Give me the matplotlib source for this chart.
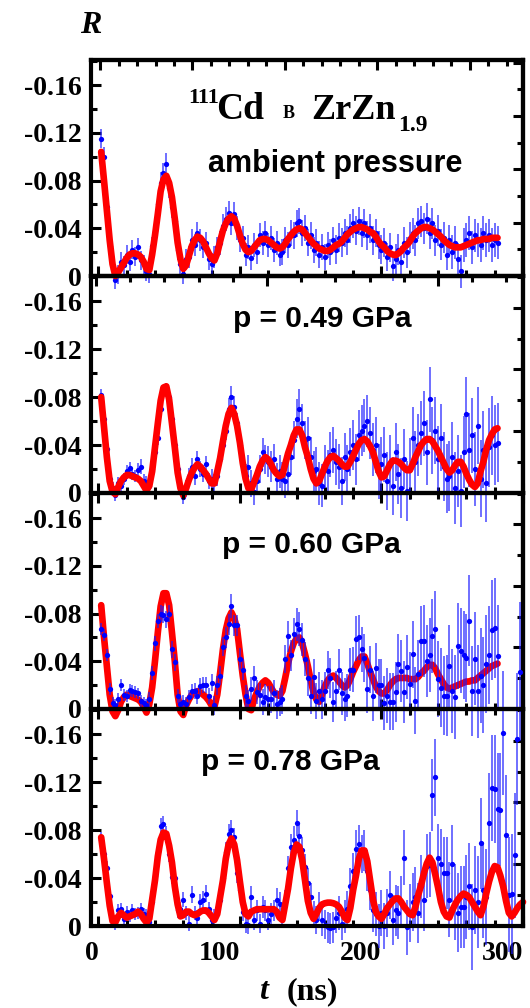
import numpy as np
import matplotlib
matplotlib.use("Agg")
import matplotlib.pyplot as plt
from matplotlib.ticker import FixedLocator

plt.rcParams['axes.unicode_minus'] = False

# ---------------- data (R values in units of 1e-3) ----------------
t_ns = [2, 4, 6, 8, 10, 12, 14, 16, 18, 20,
        22, 24, 26, 28, 30, 32, 34, 36, 38, 40,
        42, 44, 46, 48, 50, 52, 54, 56, 58, 60,
        62, 64, 66, 68, 70, 72, 74, 76, 78, 80,
        82, 84, 86, 88, 90, 92, 94, 96, 98, 100,
        102, 104, 106, 108, 110, 112, 114, 116, 118, 120,
        122, 124, 126, 128, 130, 132, 134, 136, 138, 140,
        142, 144, 146, 148, 150, 152, 154, 156, 158, 160,
        162, 164, 166, 168, 170, 172, 174, 176, 178, 180,
        182, 184, 186, 188, 190, 192, 194, 196, 198, 200,
        202, 204, 206, 208, 210, 212, 214, 216, 218, 220,
        222, 224, 226, 228, 230, 232, 234, 236, 238, 240,
        242, 244, 246, 248, 250, 252, 254, 256, 258, 260,
        262, 264, 266, 268, 270, 272, 274, 276, 278, 280,
        282, 284, 286, 288, 290, 292, 294, 296, 298, 300]

# ambient pressure
p1_R = [-115, -100, -58, -25, -6, 3, -1, -12, -9, -18,
        -12, -22, -16, -24, -13, -10, -4, -2, -25, -38,
        -60, -78, -86, -94, -74, -58, -46, -22, -10, -2,
        -14, -16, -30, -26, -36, -30, -24, -28, -14, -10,
        -16, -24, -28, -42, -48, -53, -44, -52, -40, -30,
        -32, -18, -24, -15, -26, -20, -34, -28, -36, -26,
        -32, -22, -28, -18, -20, -30, -26, -36, -34, -44,
        -46, -36, -40, -28, -34, -22, -28, -18, -24, -16,
        -26, -20, -30, -22, -32, -28, -36, -30, -40, -44,
        -38, -46, -36, -44, -34, -40, -30, -36, -26, -22,
        -28, -16, -24, -8, -14, -22, -12, -28, -20, -32,
        -36, -30, -44, -46, -40, -48, -36, -44, -30, -38,
        -26, -32, -18, -30, -20, -28, -14, -4, -26, -30,
        -36, -24, -34, -30, -26, -36, -30, -34, -26, -30, -28]
p1_err = [8, 8, 8, 8, 8, 8, 8, 8, 8, 8,
          8, 8, 8, 8, 8, 8, 8, 8, 8, 8,
          9, 9, 9, 9, 9, 9, 9, 9, 9, 9,
          9, 9, 9, 9, 9, 9, 9, 9, 9, 9,
          9, 9, 10, 10, 10, 10, 10, 10, 10, 10,
          10, 10, 10, 10, 10, 10, 10, 10, 10, 10,
          10, 10, 10, 10, 11, 11, 11, 11, 11, 11,
          11, 11, 11, 11, 11, 11, 11, 11, 11, 11,
          11, 11, 11, 12, 12, 12, 12, 12, 12, 12,
          12, 12, 12, 12, 12, 12, 12, 12, 12, 12,
          12, 12, 12, 12, 13, 13, 13, 13, 13, 13,
          13, 13, 13, 13, 13, 13, 13, 13, 13, 13,
          13, 13, 13, 13, 14, 14, 14, 14, 14, 14,
          14, 14, 14, 14, 14, 14, 14, 14, 14, 14, 14]
p1_fit = [-104, -80, -55, -30, -10, 0, -3, -7, -11, -15,
          -18, -19, -19, -18, -16, -12, -6, -5, -18, -34,
          -52, -71, -81, -84, -78, -66, -48, -28, -14, -6,
          -9, -17, -25, -30, -33, -32, -29, -24, -19, -15,
          -13, -19, -29, -38, -44, -48, -50, -48, -42, -34,
          -27, -22, -20, -21, -24, -27, -30, -31, -31, -30,
          -28, -26, -24, -23, -24, -27, -31, -34, -37, -39,
          -40, -39, -36, -33, -30, -27, -25, -23, -22, -21,
          -21, -22, -24, -26, -27, -29, -32, -35, -37, -39,
          -40, -41, -41, -40, -39, -37, -36, -33, -29, -26,
          -24, -21, -19, -18, -17.5, -19, -21, -24, -26, -29,
          -33, -36, -38, -40, -41, -41, -40, -39, -37, -35,
          -33, -30, -28, -26, -25, -24, -24, -24, -25, -26,
          -27, -28, -29, -30, -30, -31, -31, -31, -32, -32, -32]

# p = 0.49 GPa
p2_R = [-82, -62, -37, -12, -4, 2, -8, -6, -12, -18,
        -21, -16, -14, -19, -22, -10, -8, -6, -20, -34,
        -46, -70, -84, -86, -80, -62, -40, -20, -6, 3,
        -4, -14, -22, -14, -28, -20, -16, -24, -10, -12,
        -8, -14, -28, -40, -52, -70, -80, -72, -58, -40,
        -24, -14, -22, -8, -1, -10, -20, -34, -28, -26,
        -22, -28, -12, -18, -12, -10, -16, -30, -44, -62,
        -70, -58, -44, -46, -30, -18, -20, -8, -6, -22,
        -18, -32, -36, -26, -22, -10, -30, -20, -34, -40,
        -28, -48, -52, -56, -60, -50, -36, -40, -18, -24,
        -32, -10, -24, -6, -34, -16, -4, -28, -2, -20,
        -46, -26, -40, -50, -58, -34, -78, -44, -52, -28,
        -46, -22, -12, -14, -30, -4, -18, -2, -34, -66,
        -36, -48, -20, -56, -12, -36, -8, -38, -48, -40, -42]
p2_err = [5, 5, 5, 5, 5, 5, 5, 5, 5, 5,
          5, 5, 5, 6, 6, 6, 6, 6, 6, 6,
          6, 6, 6, 6, 6, 6, 6, 6, 6, 6,
          7, 7, 7, 7, 7, 7, 7, 7, 7, 8,
          8, 8, 8, 8, 8, 9, 9, 9, 9, 10,
          10, 10, 10, 11, 11, 11, 12, 12, 12, 13,
          13, 13, 13, 14, 14, 14, 15, 15, 16, 16,
          17, 16, 16, 17, 17, 17, 18, 18, 18, 18,
          18, 19, 19, 19, 19, 20, 20, 20, 20, 21,
          21, 21, 21, 22, 22, 22, 22, 23, 23, 23,
          23, 24, 24, 24, 24, 25, 25, 25, 25, 26,
          26, 26, 26, 27, 27, 27, 27, 28, 28, 28,
          28, 29, 29, 29, 29, 30, 30, 30, 30, 31,
          31, 31, 31, 32, 32, 32, 32, 33, 33, 33, 33]
p2_fit = [-80, -55, -30, -10, -1, 1, -5, -10, -13, -15,
          -15, -14, -13, -12, -10, -6, -2, -6, -18, -38,
          -58, -77, -88, -89, -78, -58, -38, -17, -4, 2,
          -4, -11, -17, -21, -24, -22, -19, -16, -12, -8,
          -8, -18, -29, -43, -56, -66, -71, -66, -56, -42,
          -25, -12, -4, -3, -9, -15, -22, -27, -30, -28,
          -24, -19, -16, -14, -15, -24, -33, -40, -48, -53,
          -53, -48, -38, -30, -20, -12, -8, -10, -16, -22,
          -27, -30, -31, -29, -27, -24, -22, -22, -26, -31,
          -36, -41, -44, -45, -43, -39, -34, -26, -18, -13,
          -14, -19, -24, -27, -27, -26, -24, -21, -19, -19,
          -24, -30, -35, -40, -43, -45, -45, -43, -39, -35,
          -30, -25, -20, -17, -19, -23, -26, -26, -22, -16,
          -11, -7, -5, -8, -18, -26, -36, -44, -49, -53, -54]

# p = 0.60 GPa
p3_R = [-67, -62, -45, -17, -5, -3, -8, -20, -12, -11,
        -16, -15, -14, -13, -7, -5, -3, -8, -30, -55,
        -74, -80, -79, -75, -80, -50, -39, -11, -4, -6,
        -4, -10, -15, -15, -11, -19, -20, -20, -11, -22,
        -3, -20, -28, -52, -60, -71, -86, -70, -70, -42,
        -33, -11, -7, -17, -26, -14, -12, -6, -10, -8,
        -8, -13, -4, -6, -8, -42, -61, -45, -63, -71,
        -67, -58, -42, -26, -11, -27, -7, -15, -8, -15,
        -33, -26, -6, -15, -33, -13, -8, -11, -33, -33,
        -59, -60, -50, -43, -17, -33, -11, -34, -20, -20,
        -5, -11, -6, -6, -14, -38, -32, -14, -35, -21,
        -46, -7, -29, -57, -57, -40, -45, -61, -67, -25,
        -18, -11, -11, -36, -15, -10, -53, -49, -45, -43,
        -74, -15, -42, -15, -28, -20, -38, -45, -66, -68, -44]
p3_err = [5, 5, 5, 5, 5, 5, 5, 5, 5, 5,
          5, 5, 5, 5, 5, 5, 5, 6, 6, 6,
          6, 7, 7, 7, 7, 7, 7, 6, 6, 6,
          6, 6, 6, 7, 7, 7, 7, 7, 7, 7,
          8, 8, 8, 8, 9, 9, 10, 9, 9, 9,
          9, 9, 9, 10, 10, 10, 10, 11, 11, 11,
          11, 11, 12, 12, 12, 12, 13, 13, 13, 14,
          14, 14, 14, 15, 15, 15, 15, 16, 16, 16,
          16, 17, 17, 17, 17, 18, 18, 18, 18, 19,
          19, 19, 19, 20, 20, 20, 21, 21, 22, 22,
          23, 23, 24, 24, 25, 25, 26, 26, 27, 27,
          28, 28, 29, 29, 30, 30, 31, 31, 32, 32,
          33, 33, 34, 34, 35, 35, 36, 36, 37, 37,
          38, 38, 39, 39, 40, 40, 41, 41, 42, 42, 43]
p3_fit = [-87, -60, -36, -12, 2, 6, 1, -6, -10, -12,
          -11, -10, -9, -8, -6, -2, 3, -4, -18, -40,
          -64, -86, -97, -97, -87, -64, -40, -12, 2, 5,
          -3, -8, -12, -14, -15, -14, -12, -10, -7, -3,
          -2, -12, -30, -50, -66, -76, -81, -76, -67, -47,
          -28, -12, 0, 1, -8, -14, -19, -22, -24, -22,
          -18, -14, -12, -11, -15, -26, -38, -48, -55, -59,
          -60, -55, -46, -36, -24, -14, -8, -6, -12, -19,
          -24, -27, -28, -26, -23, -20, -18, -20, -25, -31,
          -36, -41, -44, -44, -38, -31, -25, -19, -15, -13,
          -13, -16, -20, -23, -25, -26, -26, -26, -26, -25,
          -25, -25, -27, -30, -32, -35, -37, -37, -34, -29,
          -25, -21, -18, -17, -18, -19, -20, -21, -22, -23,
          -23, -24, -24, -26, -28, -30, -32, -34, -36, -37, -38]

# p = 0.78 GPa
p4_R = [-72, -60, -48, -25, -4, -2, -13, -14, -6, -12,
        -8, -13, -10, -11, -14, -10, -9, -3, -20, -42,
        -62, -83, -85, -76, -60, -41, -40, -13, -14, -22,
        -11, -2, -26, -11, -7, -20, -22, -27, -14, -5,
        -8, -12, -22, -40, -62, -77, -80, -74, -44, -30,
        -12, -2, -1, -24, -5, -13, -2, -16, -13, -5,
        -10, -13, -22, -18, -8, -20, -48, -66, -72, -86,
        -75, -63, -49, -36, -24, -10, -5, -16, -5, -1,
        1, 2, 1, -7, -11, -2, -8, -14, -33, -46,
        -64, -68, -60, -63, -46, -30, -13, -10, 0, -11,
        0, -11, -26, -5, -13, -11, -20, -57, 1, -11,
        -20, -24, -11, -33, -22, -50, -51, -109, -124, -57,
        -52, -44, -44, -22, -52, -20, -11, -16, -16, -24,
        -33, 1, -30, -20, -69, -30, -24, -86, -115, -114,
        -98, -97, -161, -76, -26, -27, -59, -156, -212]
p4_err = [6, 6, 6, 5, 5, 5, 5, 5, 5, 5,
          5, 5, 5, 5, 5, 5, 5, 5, 6, 6,
          7, 7, 7, 7, 7, 6, 6, 6, 6, 6,
          6, 6, 7, 6, 6, 7, 7, 7, 6, 6,
          6, 6, 7, 7, 8, 8, 8, 8, 8, 8,
          8, 8, 8, 9, 8, 9, 8, 9, 9, 8,
          9, 9, 10, 10, 9, 10, 10, 11, 11, 11,
          11, 11, 11, 12, 12, 11, 12, 12, 13, 12,
          13, 13, 13, 13, 14, 14, 14, 15, 15, 15,
          16, 16, 16, 17, 17, 17, 18, 18, 18, 19,
          19, 20, 20, 21, 21, 22, 22, 23, 23, 24,
          24, 25, 25, 26, 26, 27, 27, 30, 32, 28,
          29, 30, 30, 31, 32, 32, 33, 34, 34, 35,
          36, 36, 37, 38, 38, 40, 40, 42, 44, 45,
          46, 47, 52, 50, 48, 50, 52, 55, 58]
p4_fit = [-74, -56, -36, -17, -4, -3, -8, -11, -9, -7,
          -8, -9, -10, -12, -10, -6, -3, -6, -22, -38,
          -58, -72, -78, -77, -67, -53, -33, -18, -8, -9,
          -12, -12, -10, -9, -10, -12, -13, -13, -11, -8,
          -5, -10, -24, -38, -56, -68, -73, -68, -55, -37,
          -20, -10, -8, -12, -13, -14, -14, -14, -14, -14,
          -14, -14, -12, -7, -5, -18, -31, -48, -61, -68,
          -66, -55, -38, -21, -11, -6, -10, -15, -18, -19,
          -19.5, -19.5, -19, -18, -16, -12, -7, -5, -15, -30,
          -42, -56, -63, -63, -54, -38, -22, -12, -8, -6,
          -10, -15, -18, -21, -23, -23, -20, -16, -13, -10,
          -9, -16, -26, -34, -44, -52, -57, -53, -43, -32,
          -20, -12, -8, -7, -13, -18, -22, -25, -27, -26,
          -24, -20, -16, -12, -9, -16, -27, -37, -45, -50,
          -49, -42, -33, -21, -11, -8, -11, -15, -18, -20]

panel_labels = ["ambient pressure", "p = 0.49 GPa", "p = 0.60 GPa", "p = 0.78 GPa"]
ytick_vals = [0, -0.04, -0.08, -0.12, -0.16]
ytick_text = ["0", "-0.04", "-0.08", "-0.12", "-0.16"]
xtick_vals = [0, 100, 200, 300]
xtick_text = ["0", "100", "200", "300"]

# ---------------- figure ----------------
W, H = 530.0, 1008.0
fig = plt.figure(figsize=(W / 100, H / 100), dpi=100)
fig.patch.set_facecolor("white")

panel_px = [(60, 276), (276, 493), (493, 709), (709, 926)]
left_px, right_px = 91, 523

SERIF = "Liberation Serif"
SANS = "Liberation Sans"

data_sets = [
    (p1_R, p1_err, p1_fit),
    (p2_R, p2_err, p2_fit),
    (p3_R, p3_err, p3_fit),
    (p4_R, p4_err, p4_fit),
]

def ptext(x, y, s, **kw):
    fig.text(x / W, 1 - y / H, s, **kw)

SPW = 3.0
TW = 2.2
MAJL, MINL = 7.5, 4.5

axes = []
for i, ((top, bot), (R, err, fit)) in enumerate(zip(panel_px, data_sets)):
    ax = fig.add_axes([left_px / W, 1 - bot / H, (right_px - left_px) / W, (bot - top) / H])
    ax.set_facecolor("none")
    ax.set_xlim(-5.2, 300)
    ax.set_ylim(0, -0.181)

    n = len(R)
    td = np.array(t_ns[:n], dtype=float)
    Rd = np.array(R, dtype=float) * 1e-3
    Ed = np.array(err, dtype=float) * 1e-3
    nf = len(fit)
    tf = np.array(t_ns[:nf], dtype=float)
    Rf = np.array(fit, dtype=float) * 1e-3

    data_z = 4 if i == 2 else 2
    fit_z = 3
    eb = ax.errorbar(td, Rd, yerr=Ed, fmt="o", ms=3.8, mfc="#0000ff", mec="#0000ff",
                     mew=0, ecolor=(0.1, 0.1, 1.0, 0.8), elinewidth=1.1, capsize=0,
                     zorder=data_z)
    for art in eb.get_children():
        art.set_clip_on(False)
    ax.plot(tf, Rf, color="#ff0000", lw=4.8, solid_capstyle="round",
            solid_joinstyle="round", clip_on=False, zorder=fit_z)

    for sp in ax.spines.values():
        sp.set_linewidth(SPW)
        sp.set_zorder(6)

    ax.xaxis.set_major_locator(FixedLocator(xtick_vals))
    ax.xaxis.set_minor_locator(FixedLocator([20, 40, 60, 80, 120, 140, 160, 180,
                                             220, 240, 260, 280]))
    ax.yaxis.set_major_locator(FixedLocator(ytick_vals))
    ax.yaxis.set_minor_locator(FixedLocator([-0.02, -0.06, -0.10, -0.14, -0.18]))
    ax.set_yticklabels(ytick_text, fontfamily=SERIF, fontweight="bold", fontsize=20)
    ax.tick_params(which="both", direction="in", width=TW, left=True, right=False,
                   bottom=True, top=(i >= 2), labelbottom=(i == 3))
    ax.tick_params(which="major", length=MAJL)
    ax.tick_params(which="minor", length=MINL)
    ax.tick_params(axis="y", pad=7)
    if i == 3:
        ax.set_xticklabels(xtick_text, fontfamily=SERIF, fontweight="bold", fontsize=20)
        for lab in ax.get_xticklabels():
            lab.set_ha("right")
        ax.tick_params(axis="x", pad=11)
    else:
        ax.set_xticklabels([])

    # right-hand axis with its own tick spacing
    rstep = 0.02233 if i == 0 else 0.02577
    k = 0.02 / rstep
    sec = ax.secondary_yaxis("right", functions=(lambda y, k=k: y * k, lambda s, k=k: s / k))
    sec.yaxis.set_major_locator(FixedLocator([0, -0.04, -0.08, -0.12, -0.16]))
    sec.yaxis.set_minor_locator(FixedLocator([-0.02, -0.06, -0.10, -0.14]))
    sec.tick_params(which="both", direction="in", width=TW, labelright=False)
    sec.tick_params(which="major", length=MAJL)
    sec.tick_params(which="minor", length=MINL)
    sec.spines["right"].set_linewidth(SPW)

    # top axis with its own spacing for the first two panels
    if i in (0, 1):
        if i == 0:
            x0, step = 1.2, 13.06
            nmax = 440
        else:
            x0, step = -1.6, 24.15
            nmax = 240
        secx = ax.secondary_xaxis("top", functions=(lambda x, a=x0, b=step: (x - a) * 20 / b,
                                                   lambda s, a=x0, b=step: s * b / 20 + a))
        majors = [v for v in [0, 100, 200, 300, 400] if v <= nmax]
        minors = [v for v in range(20, nmax + 1, 20) if v % 100 != 0]
        secx.xaxis.set_major_locator(FixedLocator(majors))
        secx.xaxis.set_minor_locator(FixedLocator(minors))
        secx.tick_params(which="both", direction="in", width=TW, labeltop=False)
        secx.tick_params(which="major", length=MAJL)
        secx.tick_params(which="minor", length=MINL)
        secx.spines["top"].set_linewidth(SPW)

    axes.append(ax)

# ---------------- texts ----------------
bold_serif = dict(fontfamily=SERIF, fontweight="bold", va="baseline", ha="left")
ptext(188, 103, "111", fontsize=16, **bold_serif)
ptext(216, 119, "Cd", fontsize=27, **bold_serif)
ptext(283, 118, "B", fontsize=13, **bold_serif)
ptext(311, 119, "ZrZn", fontsize=26, **bold_serif)
ptext(398, 131, "1.9", fontsize=17, **bold_serif)

sans = dict(fontfamily=SANS, fontweight="bold", va="baseline", ha="left")
ptext(208, 172, panel_labels[0], fontsize=22, **sans)
ptext(233, 327, panel_labels[1], fontsize=21.5, **sans)
ptext(222, 553, panel_labels[2], fontsize=21.5, **sans)
ptext(201, 770, panel_labels[3], fontsize=21.5, **sans)

ptext(91, 33, "R", fontsize=23, fontfamily=SERIF, fontweight="bold", fontstyle="italic",
      va="baseline", ha="center")
ptext(259, 999, "t", fontsize=23, fontfamily=SERIF, fontweight="bold", fontstyle="italic",
      va="baseline", ha="left")
ptext(287, 999, "(ns)", fontsize=23, fontfamily=SERIF, fontweight="bold",
      va="baseline", ha="left")

fig.savefig("out.png", dpi=100, facecolor="white")
